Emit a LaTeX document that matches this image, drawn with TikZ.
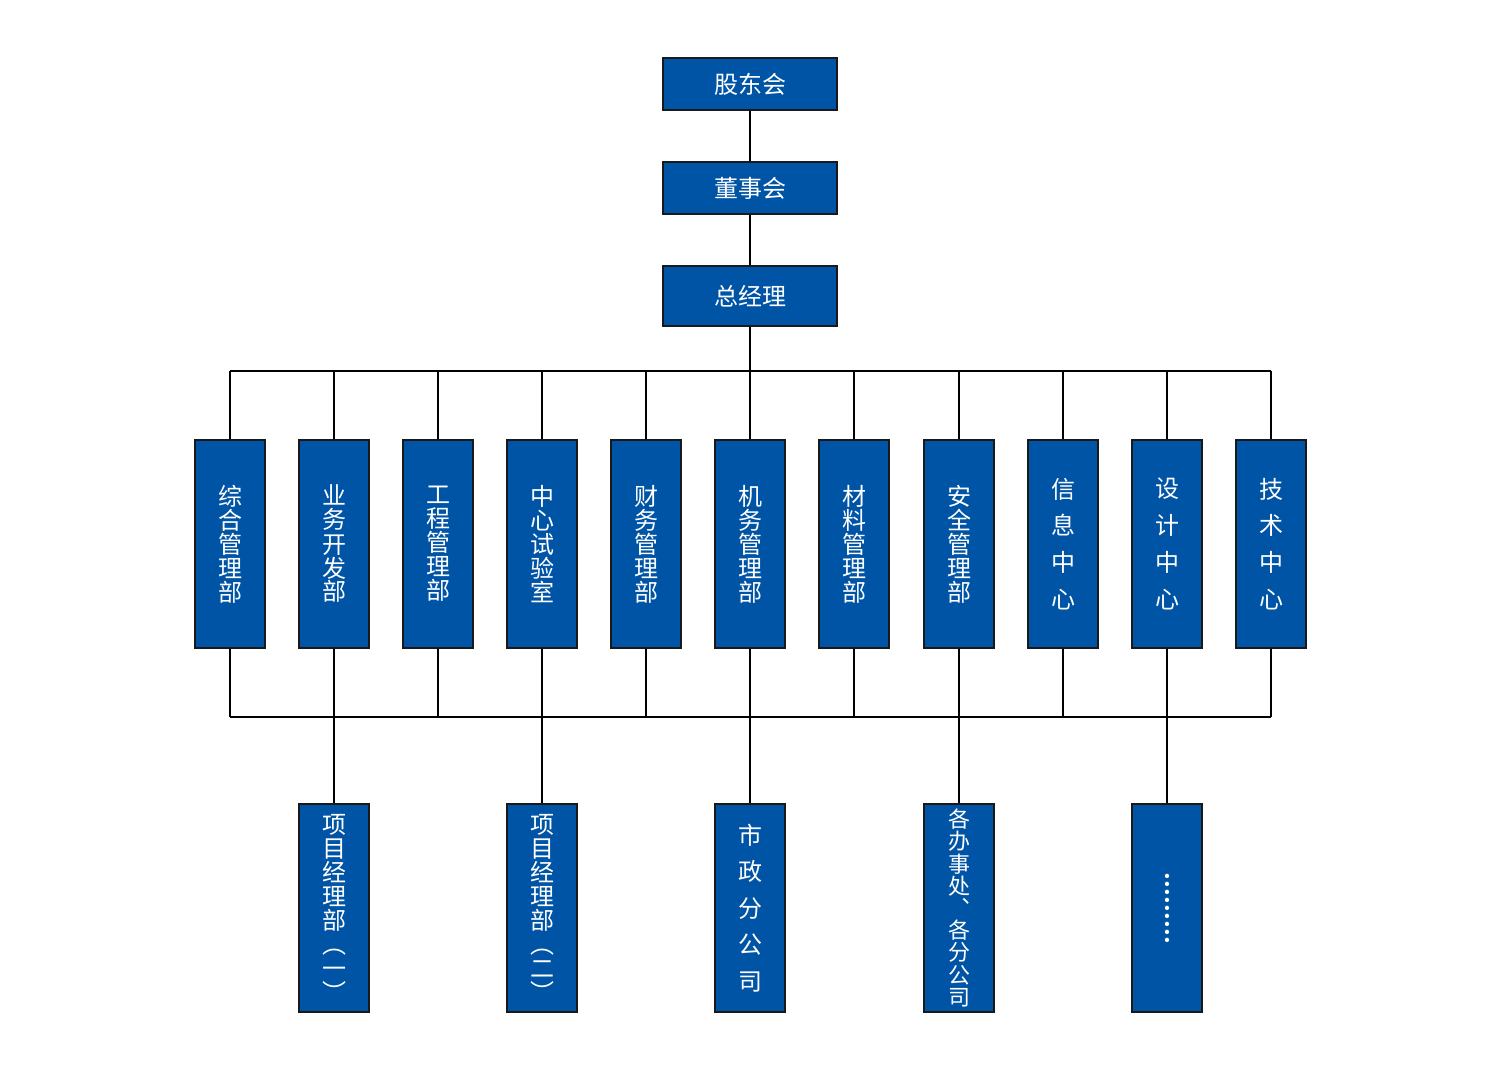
\documentclass[tikz,border=0pt]{standalone}
\usepackage{fontspec}
\setmainfont{Noto Sans CJK SC}
\definecolor{boxblue}{RGB}{0,84,166}
\begin{document}
\begin{tikzpicture}[x=0.5pt,y=-0.5pt,
  box/.style={draw=black!90, fill=boxblue, line width=0.7pt, text=white, inner sep=0pt, align=center},
  topbox/.style={box, minimum width=87pt, minimum height=26pt, font=\fontsize{12}{14}\selectfont},
  deptbox/.style={box, minimum width=35pt, minimum height=104pt, font=\fontsize{12}{12}\selectfont},
  wdeptbox/.style={deptbox, font=\fontsize{12}{18.4}\selectfont},
  sdeptbox/.style={deptbox, font=\fontsize{11}{11.1}\selectfont},
  conn/.style={draw=black, line width=0.7pt}]
\useasboundingbox (0,0) rectangle (1500,1069);
% top chain
\node[topbox] (sh) at (750,84) {股东会};
\node[topbox] (bd) at (750,188) {董事会};
\node[topbox, minimum height=30pt] (gm) at (750,296) {总经理};
\draw[conn] (sh) -- (bd);
\draw[conn] (bd) -- (gm);
% departments
\node[deptbox] (d1) at (230,544) {综\\合\\管\\理\\部};
\node[deptbox] (d2) at (334,544) {业\\务\\开\\发\\部};
\node[deptbox] (d3) at (438,544) {工\\程\\管\\理\\部};
\node[deptbox] (d4) at (542,544) {中\\心\\试\\验\\室};
\node[deptbox] (d5) at (646,544) {财\\务\\管\\理\\部};
\node[deptbox] (d6) at (750,544) {机\\务\\管\\理\\部};
\node[deptbox] (d7) at (854,544) {材\\料\\管\\理\\部};
\node[deptbox] (d8) at (959,544) {安\\全\\管\\理\\部};
\node[wdeptbox] (d9) at (1063,544) {信\\息\\中\\心};
\node[wdeptbox] (d10) at (1167,544) {设\\计\\中\\心};
\node[wdeptbox] (d11) at (1271,544) {技\\术\\中\\心};
% buses
\coordinate (bt) at (750,371);
\coordinate (bb) at (750,717);
\draw[conn] (gm.south) -- (bt);
\draw[conn] (d1.north |- bt) -- (d11.north |- bt);
\draw[conn] (d1.south |- bb) -- (d11.south |- bb);
\foreach \i in {1,...,11}{
  \draw[conn] (d\i.north |- bt) -- (d\i.north);
  \draw[conn] (d\i.south) -- (d\i.south |- bb);
}
% bottom units
\node[deptbox] (b1) at (334,908) {项\\目\\经\\理\\部\\︵\\一\\︶};
\node[deptbox] (b2) at (542,908) {项\\目\\经\\理\\部\\︵\\二\\︶};
\node[deptbox, font=\fontsize{12}{18.25}\selectfont] (b3) at (750,908) {市\\政\\分\\公\\司};
\node[sdeptbox] (b4) at (959,908) {各\\办\\事\\处\\︑\\各\\分\\公\\司};
\node[deptbox, font=\bfseries\fontsize{12}{12}\selectfont] (b5) at (1167,908) {︙\\︙\\︙};
\foreach \j/\d in {1/2,2/4,3/6,4/8,5/10}{
  \draw[conn] (d\d.south |- bb) -- (b\j.north);
}
\end{tikzpicture}
\end{document}
